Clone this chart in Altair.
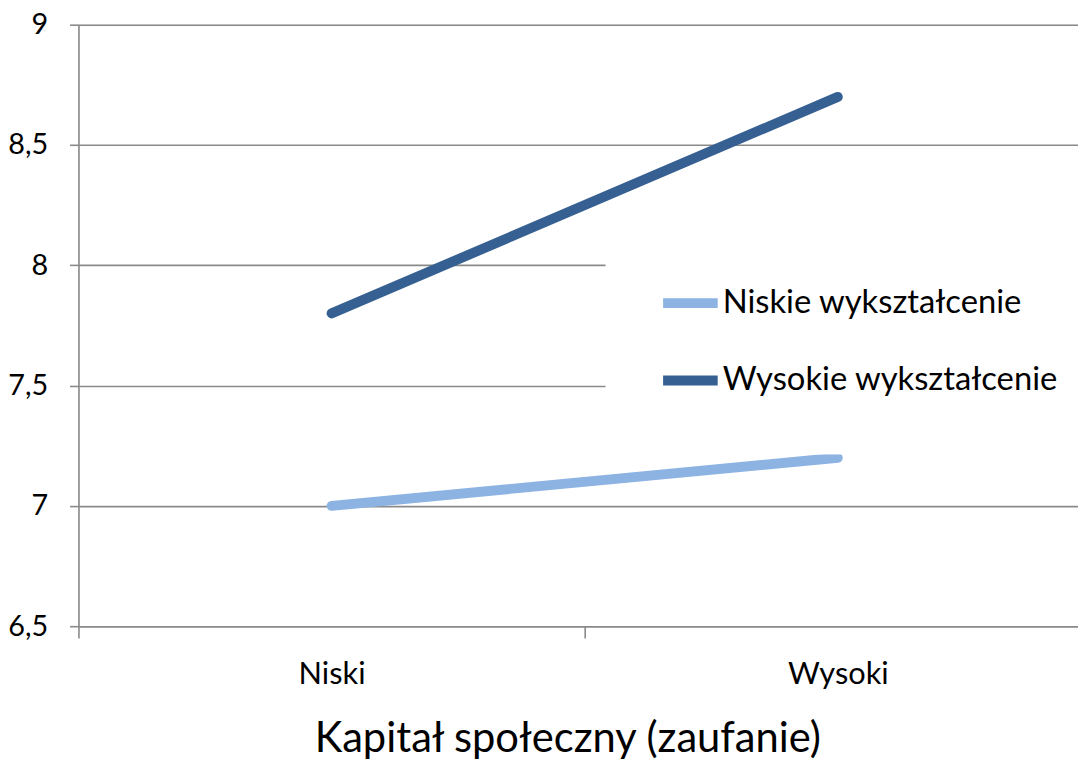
import altair as alt
import pandas as pd

# ---- data ----
categories = ["Niski", "Wysoki"]
series = ["Niskie wykształcenie", "Wysokie wykształcenie"]
niskie_values = [7.0, 7.2]
wysokie_values = [7.8, 8.7]
y_ticks = [6.5, 7, 7.5, 8, 8.5, 9]
colors = ["#8DB3E2", "#376092"]

rows = []
for s, vals in zip(series, [niskie_values, wysokie_values]):
    for i, (c, v) in enumerate(zip(categories, vals)):
        rows.append({"kategoria": c, "pos": i + 0.5, "seria": s, "wartosc": v})
df = pd.DataFrame(rows)

x_values = [0, 0.5, 1, 1.5, 2]
label_expr = " : ".join(
    [f"datum.value == {i + 0.5} ? '{c}'" for i, c in enumerate(categories)]
) + " : ''"

FONT = "Lato"
GRID = "#8a8a8a"
PLOT_W = 1007
X_MAX = PLOT_W / 510  # plot runs slightly past the picture's right edge

chart = (
    alt.Chart(df)
    .mark_line(strokeWidth=10, strokeCap="round")
    .encode(
        x=alt.X(
            "pos:Q",
            scale=alt.Scale(domain=[0, X_MAX], nice=False, zero=False),
            axis=alt.Axis(
                values=x_values,
                labelExpr=label_expr,
                grid=False,
                domainColor=GRID,
                domainWidth=1.6,
                tickColor={"condition": {"test": "datum.value % 1 != 0", "value": "transparent"}, "value": GRID},
                tickWidth=1.6,
                tickSize=12,
                labelFont=FONT,
                labelFontSize=31,
                labelColor="black",
                labelBaseline="alphabetic",
                labelPadding=46,
                labelFlush=False,
                labelOverlap=False,
                title="Kapitał społeczny (zaufanie)",
                titleFont=FONT,
                titleFontSize=42,
                titleFontWeight="normal",
                titleColor="black",
                titleBaseline="alphabetic",
                titleAlign="center",
                titleX=492.5,
                titleY=126,
            ),
        ),
        y=alt.Y(
            "wartosc:Q",
            scale=alt.Scale(domain=[6.5, 9], nice=False, zero=False),
            axis=alt.Axis(
                values=y_ticks,
                labelExpr="replace(format(datum.value, '~g'), '.', ',')",
                grid=True,
                gridColor=GRID,
                gridWidth=1.6,
                domainColor=GRID,
                domainWidth=1.6,
                tickColor=GRID,
                tickWidth=1.6,
                tickSize=9,
                labelFont=FONT,
                labelFontSize=29,
                labelColor="black",
                labelPadding=22,
                title=None,
            ),
        ),
        color=alt.Color(
            "seria:N",
            scale=alt.Scale(domain=series, range=colors),
            legend=alt.Legend(
                orient="none",
                legendX=531,
                legendY=195,
                padding=53,
                fillColor="white",
                strokeColor="white",
                symbolType="stroke",
                symbolSize=3025,
                symbolStrokeWidth=10,
                labelFont=FONT,
                labelFontSize=33,
                labelColor="black",
                labelOffset=0,
                labelLimit=0,
                rowPadding=25,
                title=None,
            ),
        ),
    )
    .properties(
        width=PLOT_W,
        height=606,
        autosize=alt.AutoSizeParams(type="none"),
        padding={"left": 71, "top": 14, "right": 0, "bottom": 132},
    )
    .configure_view(stroke=None)
    .configure(background="white")
)

chart.save("out.html", embed_options={"renderer": "svg", "actions": False})
